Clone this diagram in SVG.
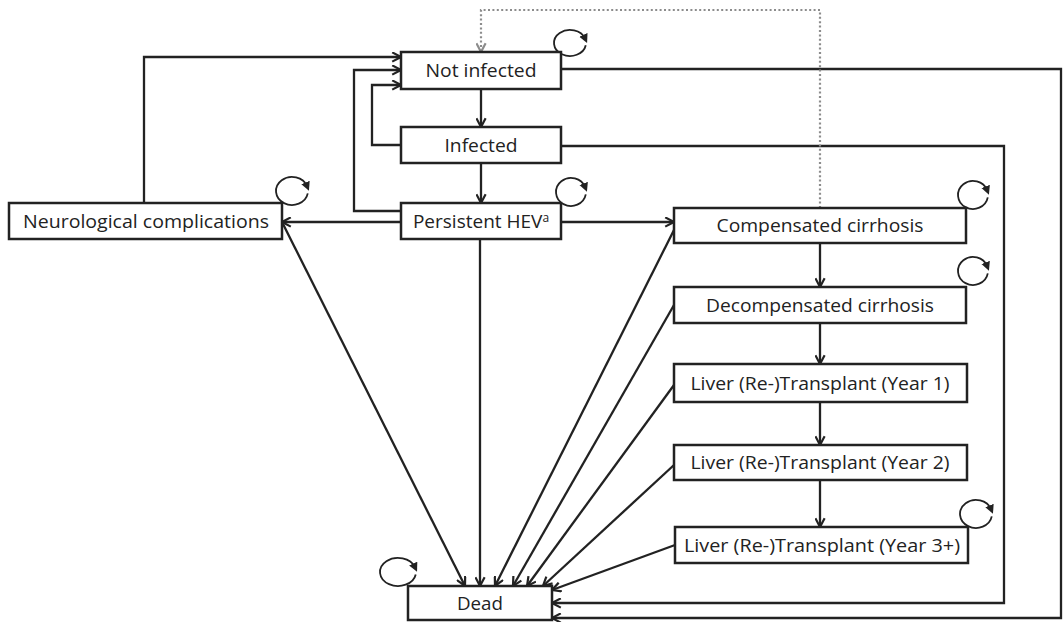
<svg xmlns="http://www.w3.org/2000/svg" width="1063" height="622" viewBox="0 0 1063 622">
<style>
.box{fill:#fff;stroke:#222;stroke-width:2.5}
.lbl{font-family:"Open Sans","Noto Sans",sans-serif;font-size:19px;fill:#222;text-anchor:middle}
.con{fill:none;stroke:#222;stroke-width:2.3}
.dot{fill:none;stroke:#8c8c8c;stroke-width:2.2;stroke-dasharray:2 2.4}
.loop{fill:none;stroke:#222;stroke-width:1.8}
</style>
<defs>
<marker id="ah" markerUnits="userSpaceOnUse" viewBox="0 0 10 10" refX="9" refY="5" markerWidth="11" markerHeight="11" orient="auto">
<path d="M1,0.8 L9,5 L1,9.2" fill="none" stroke="#222" stroke-width="2"/>
</marker>
<marker id="ahg" markerUnits="userSpaceOnUse" viewBox="0 0 10 10" refX="9" refY="5" markerWidth="11" markerHeight="11" orient="auto">
<path d="M1,0.8 L9,5 L1,9.2" fill="none" stroke="#8c8c8c" stroke-width="2"/>
</marker>
<marker id="lh" markerUnits="userSpaceOnUse" viewBox="0 0 10 10" refX="4" refY="5" markerWidth="10" markerHeight="10" orient="auto">
<path d="M0,0.5 L9,5 L0,9.5 Z" fill="#222"/>
</marker>
</defs>

<g id="connectors">
<path class="con" d="M144,203 V57 H401" marker-end="url(#ah)"/>
<path class="con" d="M401,211 H354 V70 H401" marker-end="url(#ah)"/>
<path class="con" d="M401,145 H372 V85 H401" marker-end="url(#ah)"/>
<path class="con" d="M481,89 V127" marker-end="url(#ah)"/>
<path class="con" d="M481,163 V203" marker-end="url(#ah)"/>
<path class="con" d="M401,222 H282" marker-end="url(#ah)"/>
<path class="con" d="M561,222 H674" marker-end="url(#ah)"/>
<path class="con" d="M820,243 V287" marker-end="url(#ah)"/>
<path class="con" d="M820,323 V364" marker-end="url(#ah)"/>
<path class="con" d="M820,402 V445" marker-end="url(#ah)"/>
<path class="con" d="M820,480 V527" marker-end="url(#ah)"/>
<path class="con" d="M283,224 L465,586" marker-end="url(#ah)"/>
<path class="con" d="M480,239 V586" marker-end="url(#ah)"/>
<path class="con" d="M674,230 L495,586" marker-end="url(#ah)"/>
<path class="con" d="M674,305 L513,586" marker-end="url(#ah)"/>
<path class="con" d="M674,385 L527,586" marker-end="url(#ah)"/>
<path class="con" d="M674,465 L543,586" marker-end="url(#ah)"/>
<path class="con" d="M675,545 L552,590" marker-end="url(#ah)"/>
<path class="con" d="M561,146 H1004 V603 H552" marker-end="url(#ah)"/>
<path class="con" d="M561,69 H1061 V618 H552" marker-end="url(#ah)"/>
<path class="dot" d="M820,208 V10 H481 V52" marker-end="url(#ahg)"/>
<!-- self loops -->
<path class="loop" d="M585.76,45.26 A16,13 0 1 1 585.04,38.55" marker-end="url(#lh)"/>
<path class="loop" d="M585.78,194.44 A15,14 0 1 1 585.10,187.21" marker-end="url(#lh)"/>
<path class="loop" d="M307.76,193.44 A16,14 0 1 1 307.04,186.21" marker-end="url(#lh)"/>
<path class="loop" d="M987.78,197.44 A15,14 0 1 1 987.10,190.21" marker-end="url(#lh)"/>
<path class="loop" d="M987.78,273.44 A15,14 0 1 1 987.10,266.21" marker-end="url(#lh)"/>
<path class="loop" d="M991.76,516.44 A16,14 0 1 1 991.04,509.21" marker-end="url(#lh)"/>
<path class="loop" d="M415.73,574.44 A18,14 0 1 1 414.91,567.21" marker-end="url(#lh)"/>
</g>

<g id="not-infected">
<rect class="box" x="401" y="52" width="160" height="37"/>
<text class="lbl" x="481" y="77" textLength="111" lengthAdjust="spacingAndGlyphs">Not infected</text>
</g>
<g id="infected">
<rect class="box" x="401" y="127" width="160" height="36"/>
<text class="lbl" x="481" y="151.5" textLength="73" lengthAdjust="spacingAndGlyphs">Infected</text>
</g>
<g id="persistent-hev">
<rect class="box" x="401" y="203" width="160" height="36"/>
<text class="lbl" x="481" y="227.5">Persistent HEV<tspan font-size="12" dy="-6">a</tspan></text>
</g>
<g id="neurological-complications">
<rect class="box" x="9" y="203" width="273" height="36"/>
<text class="lbl" x="146" y="227.5" textLength="246" lengthAdjust="spacingAndGlyphs">Neurological complications</text>
</g>
<g id="compensated-cirrhosis">
<rect class="box" x="674" y="208" width="292" height="35"/>
<text class="lbl" x="820" y="232" textLength="207" lengthAdjust="spacingAndGlyphs">Compensated cirrhosis</text>
</g>
<g id="decompensated-cirrhosis">
<rect class="box" x="674" y="287" width="292" height="36"/>
<text class="lbl" x="820" y="311.5" textLength="228" lengthAdjust="spacingAndGlyphs">Decompensated cirrhosis</text>
</g>
<g id="transplant-year1">
<rect class="box" x="674" y="364" width="293" height="38"/>
<text class="lbl" x="820" y="389.5" textLength="259" lengthAdjust="spacingAndGlyphs">Liver (Re-)Transplant (Year 1)</text>
</g>
<g id="transplant-year2">
<rect class="box" x="674" y="445" width="293" height="35"/>
<text class="lbl" x="820" y="469" textLength="259" lengthAdjust="spacingAndGlyphs">Liver (Re-)Transplant (Year 2)</text>
</g>
<g id="transplant-year3">
<rect class="box" x="675" y="527" width="293" height="36"/>
<text class="lbl" x="822" y="551.5" textLength="276" lengthAdjust="spacingAndGlyphs">Liver (Re-)Transplant (Year 3+)</text>
</g>
<g id="dead">
<rect class="box" x="408" y="586" width="144" height="34"/>
<text class="lbl" x="480" y="609.5" textLength="46" lengthAdjust="spacingAndGlyphs">Dead</text>
</g>
</svg>
